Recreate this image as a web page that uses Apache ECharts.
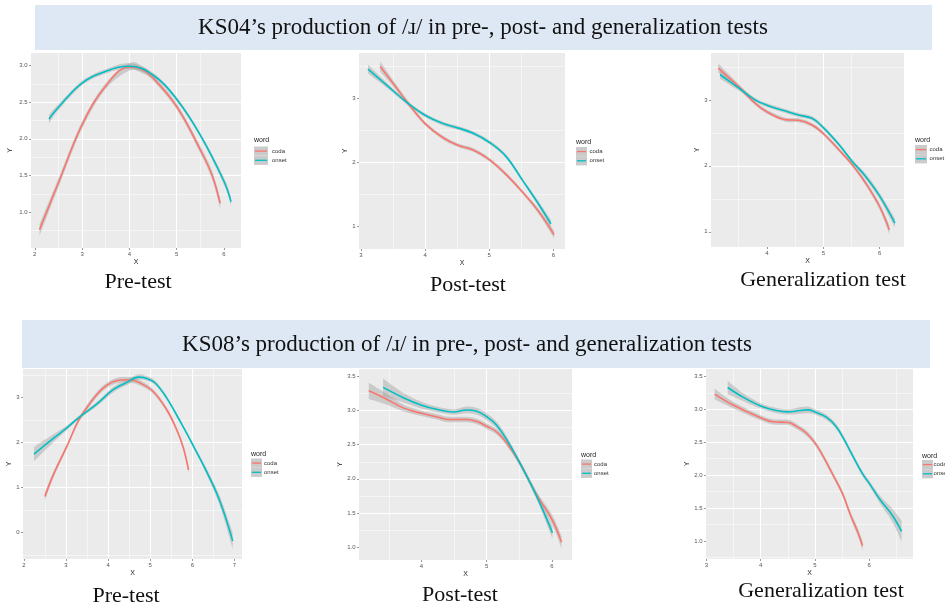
<!DOCTYPE html>
<html>
<head>
<meta charset="utf-8">
<script src="https://cdn.jsdelivr.net/npm/echarts@6/dist/echarts.min.js"></script>
<style>
  html, body { margin: 0; padding: 0; background: #fff; }
  #main { width: 945px; height: 605px; }
</style>
</head>
<body>
<div id="main"></div>
<script>
// smoothed curves: [x, fitted y, half width of the grey band]
const ks04PreCoda = [[2.10,0.76,0.08],[2.5,1.40,0.06],[3.0,2.19,0.05],[3.5,2.72,0.04],[4.0,2.98,0.05],[4.25,2.95,0.05],[4.5,2.83,0.04],[5.0,2.44,0.04],[5.5,1.85,0.05],[5.75,1.50,0.06],[5.92,1.12,0.07]];
const ks04PreOnset = [[2.30,2.27,0.06],[2.5,2.43,0.04],[3.0,2.76,0.03],[3.5,2.92,0.03],[4.0,2.99,0.04],[4.5,2.87,0.03],[5.0,2.54,0.03],[5.5,2.05,0.03],[6.0,1.42,0.05],[6.15,1.14,0.06]];

const ks04PostCoda = [[3.30,3.49,0.08],[3.5,3.23,0.05],[3.74,2.91,0.04],[4.0,2.60,0.03],[4.28,2.38,0.03],[4.52,2.26,0.03],[4.75,2.19,0.03],[5.0,2.04,0.03],[5.26,1.81,0.03],[5.53,1.52,0.03],[5.77,1.23,0.04],[6.01,0.87,0.06]];
const ks04PostOnset = [[3.11,3.45,0.07],[3.4,3.20,0.04],[3.74,2.91,0.03],[4.0,2.73,0.03],[4.28,2.60,0.03],[4.52,2.53,0.03],[4.75,2.45,0.03],[5.0,2.31,0.03],[5.26,2.09,0.03],[5.53,1.70,0.03],[5.74,1.39,0.04],[5.96,1.04,0.06]];

const ks04GenCoda = [[3.14,3.48,0.07],[3.5,3.20,0.04],[3.79,2.95,0.03],[4.0,2.82,0.03],[4.33,2.70,0.03],[4.56,2.69,0.03],[4.80,2.62,0.03],[5.0,2.49,0.03],[5.28,2.24,0.03],[5.51,2.02,0.03],[5.75,1.74,0.04],[6.0,1.38,0.05],[6.17,1.03,0.07]];
const ks04GenOnset = [[3.17,3.38,0.06],[3.5,3.18,0.04],[3.79,3.0,0.03],[4.0,2.92,0.03],[4.33,2.83,0.03],[4.56,2.77,0.03],[4.80,2.72,0.03],[5.0,2.58,0.03],[5.28,2.32,0.03],[5.51,2.07,0.03],[5.75,1.84,0.04],[6.0,1.54,0.05],[6.27,1.13,0.07]];

const ks08PreCoda = [[2.50,0.80,0.09],[2.70,1.28,0.07],[3.02,1.91,0.05],[3.29,2.47,0.05],[3.57,2.87,0.06],[3.89,3.21,0.06],[4.20,3.37,0.06],[4.52,3.39,0.06],[4.76,3.32,0.06],[5.07,3.13,0.05],[5.39,2.73,0.05],[5.63,2.28,0.05],[5.79,1.87,0.06],[5.91,1.39,0.08]];
const ks08PreOnset = [[2.24,1.74,0.16],[2.70,2.09,0.09],[3.02,2.32,0.05],[3.29,2.54,0.04],[3.73,2.85,0.05],[4.12,3.17,0.06],[4.44,3.33,0.06],[4.72,3.45,0.06],[4.92,3.42,0.05],[5.12,3.32,0.05],[5.39,2.99,0.04],[5.71,2.47,0.04],[6.02,1.93,0.04],[6.34,1.35,0.07],[6.66,0.68,0.11],[6.96,-0.19,0.18]];

const ks08PostCoda = [[3.19,3.29,0.12],[3.46,3.17,0.08],[3.72,3.04,0.05],[4.0,2.96,0.04],[4.23,2.91,0.04],[4.41,2.87,0.04],[4.69,2.87,0.04],[4.85,2.84,0.04],[5.0,2.77,0.04],[5.15,2.69,0.04],[5.31,2.52,0.04],[5.51,2.23,0.04],[5.77,1.76,0.05],[6.0,1.41,0.07],[6.15,1.07,0.09]];
const ks08PostOnset = [[3.41,3.34,0.13],[3.72,3.19,0.07],[4.0,3.08,0.05],[4.23,3.02,0.04],[4.49,2.98,0.04],[4.69,3.01,0.05],[4.85,2.99,0.05],[5.0,2.91,0.05],[5.15,2.79,0.05],[5.31,2.57,0.05],[5.51,2.23,0.04],[5.77,1.74,0.05],[6.01,1.21,0.09]];

const ks08GenCoda = [[3.15,3.23,0.08],[3.50,3.06,0.05],[4.0,2.87,0.04],[4.23,2.81,0.04],[4.51,2.80,0.04],[4.66,2.74,0.04],[4.84,2.64,0.04],[5.0,2.49,0.04],[5.15,2.29,0.04],[5.33,2.01,0.04],[5.51,1.72,0.04],[5.66,1.39,0.05],[5.79,1.14,0.06],[5.88,0.93,0.07]];
const ks08GenOnset = [[3.39,3.33,0.10],[3.68,3.18,0.06],[4.0,3.05,0.04],[4.29,2.98,0.04],[4.51,2.96,0.04],[4.72,2.98,0.05],[4.87,2.99,0.05],[5.0,2.96,0.04],[5.21,2.88,0.04],[5.39,2.74,0.04],[5.54,2.54,0.04],[5.70,2.29,0.04],[5.88,2.02,0.04],[6.0,1.88,0.04],[6.21,1.62,0.06],[6.43,1.39,0.10],[6.60,1.15,0.16]];

// tick labels
const ks04PreXTicks = ['2','3','4','5','6'];
const ks04PreYTicks = ['1.0','1.5','2.0','2.5','3.0'];
const ks04PostXTicks = ['3','4','5','6'];
const ks04PostYTicks = ['1','2','3'];
const ks04GenXTicks = ['4','5','6'];
const ks04GenYTicks = ['1','2','3'];
const ks08PreXTicks = ['2','3','4','5','6','7'];
const ks08PreYTicks = ['0','1','2','3'];
const ks08PostXTicks = ['4','5','6'];
const ks08PostYTicks = ['1.0','1.5','2.0','2.5','3.0','3.5'];
const ks08GenXTicks = ['3','4','5','6'];
const ks08GenYTicks = ['1.0','1.5','2.0','2.5','3.0','3.5'];

const groups = ['coda', 'onset'];
const titles = [
  'KS04\u2019s production of /\u0279/ in pre-, post- and generalization tests',
  'KS08\u2019s production of /\u0279/ in pre-, post- and generalization tests'
];
const captions = ['Pre-test', 'Post-test', 'Generalization test', 'Pre-test', 'Post-test', 'Generalization test'];

const panels = [
  { coda: ks04PreCoda, onset: ks04PreOnset, xt: ks04PreXTicks, yt: ks04PreYTicks, x: [1.92, 6.36], y: [0.51, 3.17], ys: 0.5,
    grid: { left: 31, top: 53, width: 210, height: 195 }, xGap: 8, yGap: 17,
    leg: { x: 254, wy: 140, kt: 146.5, kw: 14, lx: 272 }, cap: [138, 282] },
  { coda: ks04PostCoda, onset: ks04PostOnset, xt: ks04PostXTicks, yt: ks04PostYTicks, x: [2.97, 6.18], y: [0.647, 3.70], ys: 1,
    grid: { left: 359, top: 53, width: 206, height: 196 }, xGap: 8.5, yGap: 10.5,
    leg: { x: 576, wy: 142, kt: 147, kw: 11, lx: 589.5 }, cap: [468, 285] },
  { coda: ks04GenCoda, onset: ks04GenOnset, xt: ks04GenXTicks, yt: ks04GenYTicks, x: [3.01, 6.43], y: [0.77, 3.71], ys: 1,
    grid: { left: 711, top: 53, width: 193, height: 194 }, xGap: 6.5, yGap: 9.5,
    leg: { x: 915, wy: 140, kt: 145, kw: 12, lx: 929.5 }, cap: [823, 280] },
  { coda: ks08PreCoda, onset: ks08PreOnset, xt: ks08PreXTicks, yt: ks08PreYTicks, x: [1.98, 7.18], y: [-0.59, 3.63], ys: 1,
    grid: { left: 23, top: 369, width: 219, height: 190 }, xGap: 8.5, yGap: 6.5,
    leg: { x: 251, wy: 454, kt: 458.5, kw: 11, lx: 264 }, cap: [126, 596] },
  { coda: ks08PostCoda, onset: ks08PostOnset, xt: ks08PostXTicks, yt: ks08PostYTicks, x: [3.04, 6.31], y: [0.81, 3.61], ys: 0.5,
    grid: { left: 359, top: 369, width: 213, height: 191 }, xGap: 8.5, yGap: 10.5,
    leg: { x: 581, wy: 455, kt: 459.5, kw: 11, lx: 594 }, cap: [460, 595] },
  { coda: ks08GenCoda, onset: ks08GenOnset, xt: ks08GenXTicks, yt: ks08GenYTicks, x: [2.99, 6.81], y: [0.73, 3.61], ys: 0.5,
    grid: { left: 706, top: 369, width: 207, height: 190 }, xGap: 8.5, yGap: 12.5,
    leg: { x: 922, wy: 456, kt: 460, kw: 11, lx: 933.5 }, cap: [821, 591] }
];

const colors = { coda: '#F8766D', onset: '#00BFC4' };
const bandFill = 'rgba(153,153,153,0.4)';
const sans = '"Liberation Sans", Arial, sans-serif';
const serif = '"Liberation Serif", "Times New Roman", serif';

function labelFor(list) {
  return function (v) {
    const hit = list.find(function (l) { return Math.abs(parseFloat(l) - v) < 1e-6; });
    return hit === undefined ? '' : hit;
  };
}

function makeAxis(range, step, ticks, name, gap) {
  return {
    type: 'value', min: range[0], max: range[1],
    minInterval: step, maxInterval: step,
    name: name, nameLocation: 'middle', nameGap: gap,
    nameTextStyle: { fontFamily: sans, fontSize: 7, color: '#222' },
    axisLine: { show: false, onZero: false },
    axisTick: { show: true, length: 2, lineStyle: { color: '#555', width: 0.6 },
                customValues: ticks.map(Number) },
    axisLabel: { show: true, interval: 0, margin: 3.5, fontFamily: sans, fontSize: 6, color: '#555',
                 customValues: ticks.map(Number), formatter: labelFor(ticks) },
    splitLine: { show: true, showMinLine: false, showMaxLine: false, lineStyle: { color: '#fff', width: 1 } },
    minorTick: { show: false, splitNumber: 2 },
    minorSplitLine: { show: true, lineStyle: { color: '#fff', width: 0.5 } }
  };
}

// Catmull-Rom pass over pixel points so the band edges bend like the fitted lines
function curvePixels(px) {
  const out = [];
  const n = 8;
  for (let i = 0; i < px.length - 1; i++) {
    const p0 = px[Math.max(i - 1, 0)], p1 = px[i], p2 = px[i + 1], p3 = px[Math.min(i + 2, px.length - 1)];
    for (let k = 0; k < n; k++) {
      const t = k / n, t2 = t * t, t3 = t2 * t;
      const pt = [0, 1].map(function (d) {
        return 0.5 * (2 * p1[d] + (-p0[d] + p2[d]) * t + (2 * p0[d] - 5 * p1[d] + 4 * p2[d] - p3[d]) * t2
          + (-p0[d] + 3 * p1[d] - 3 * p2[d] + p3[d]) * t3);
      });
      out.push(pt);
    }
  }
  out.push(px[px.length - 1]);
  return out;
}

function bandSeries(i, pts) {
  return {
    type: 'custom', xAxisIndex: i, yAxisIndex: i, silent: true, z: 2,
    data: pts.map(function (p) { return [p[0], p[1] - p[2], p[1] + p[2]]; }),
    encode: { x: 0, y: [1, 2] },
    renderItem: function (params, api) {
      if (params.dataIndex !== 0) return null;
      const up = curvePixels(pts.map(function (p) { return api.coord([p[0], p[1] + p[2]]); }));
      const lo = curvePixels(pts.map(function (p) { return api.coord([p[0], p[1] - p[2]]); })).reverse();
      return { type: 'polygon', shape: { points: up.concat(lo) }, style: { fill: bandFill } };
    }
  };
}

function lineSeries(i, name, pts) {
  return {
    type: 'line', name: name, xAxisIndex: i, yAxisIndex: i, z: 3,
    data: pts.map(function (p) { return [p[0], p[1]]; }),
    smooth: 0.4, showSymbol: false, silent: true,
    lineStyle: { color: colors[name], width: 1.6 }
  };
}

const grid = [], xAxis = [], yAxis = [], series = [];
const graphic = [
  { type: 'rect', z: -1, shape: { x: 35, y: 5, width: 897, height: 45 }, style: { fill: '#dde8f4' } },
  { type: 'rect', z: -1, shape: { x: 22, y: 320, width: 908, height: 48 }, style: { fill: '#dde8f4' } },
  { type: 'text', x: 483, y: 28, style: { text: titles[0], font: '23px ' + serif, fill: '#111',
      align: 'center', verticalAlign: 'middle', textAlign: 'center', textVerticalAlign: 'middle' } },
  { type: 'text', x: 467, y: 345, style: { text: titles[1], font: '23px ' + serif, fill: '#111',
      align: 'center', verticalAlign: 'middle', textAlign: 'center', textVerticalAlign: 'middle' } }
];

panels.forEach(function (p, i) {
  grid.push(Object.assign({ show: true, backgroundColor: '#ebebeb', borderWidth: 0 }, p.grid));
  const xa = makeAxis(p.x, 1, p.xt, 'X', p.xGap);
  xa.gridIndex = i;
  xAxis.push(xa);
  const ya = makeAxis(p.y, p.ys, p.yt, 'Y', p.yGap);
  ya.gridIndex = i;
  yAxis.push(ya);

  groups.forEach(function (g) { series.push(bandSeries(i, p[g])); });
  groups.forEach(function (g) { series.push(lineSeries(i, g, p[g])); });

  // ggplot style legend
  const L = p.leg;
  graphic.push({ type: 'text', x: L.x, y: L.wy, style: { text: 'word', font: '7px ' + sans, fill: '#222',
    align: 'left', verticalAlign: 'middle', textAlign: 'left', textVerticalAlign: 'middle' } });
  groups.forEach(function (g, k) {
    const top = L.kt + k * 9.2;
    graphic.push({ type: 'rect', shape: { x: L.x, y: top, width: L.kw, height: 9.2 }, style: { fill: '#cbcbcb' } });
    graphic.push({ type: 'line', shape: { x1: L.x + 1, y1: top + 4.6, x2: L.x + L.kw - 1, y2: top + 4.6 },
      style: { stroke: colors[g], lineWidth: 1.3 } });
    graphic.push({ type: 'text', x: L.lx, y: top + 4.6, style: { text: g, font: '6px ' + sans, fill: '#333',
      align: 'left', verticalAlign: 'middle', textAlign: 'left', textVerticalAlign: 'middle' } });
  });

  graphic.push({ type: 'text', x: p.cap[0], y: p.cap[1], style: { text: captions[i], font: '22px ' + serif, fill: '#111',
    align: 'center', verticalAlign: 'middle', textAlign: 'center', textVerticalAlign: 'middle' } });
});

const chart = echarts.init(document.getElementById('main'), null, { renderer: 'canvas' });
chart.setOption({
  animation: false,
  backgroundColor: '#ffffff',
  grid: grid,
  xAxis: xAxis,
  yAxis: yAxis,
  series: series,
  graphic: graphic
});
</script>
</body>
</html>
